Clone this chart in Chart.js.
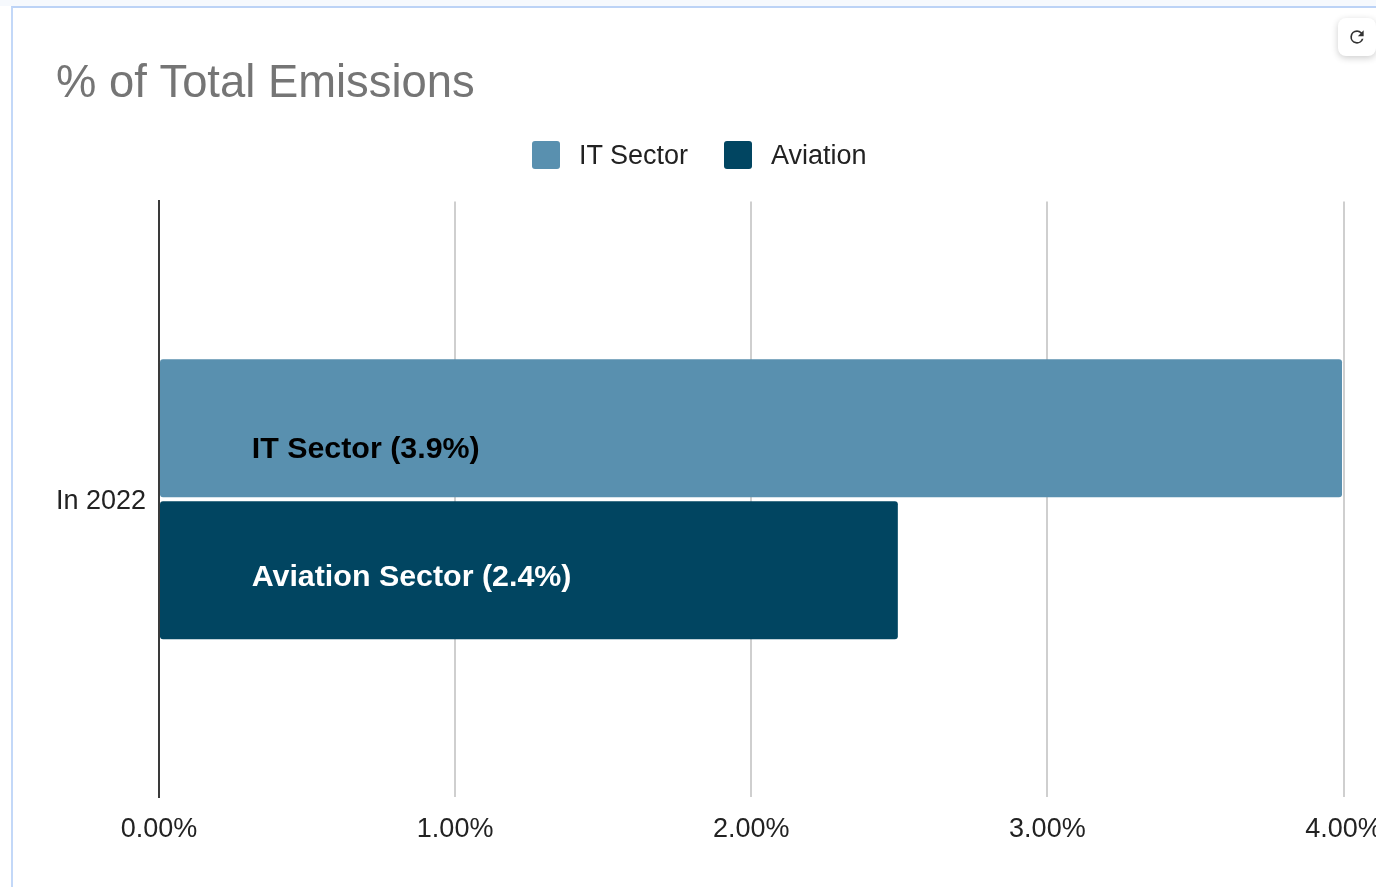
<!DOCTYPE html>
<html>
<head>
<meta charset="utf-8">
<script src="https://cdn.jsdelivr.net/npm/chart.js@4"></script>
<style>
    html, body { margin: 0; padding: 0; background: #fff; overflow: hidden; }
    #page { position: relative; width: 1376px; height: 887px; overflow: hidden; background: #fff; }
    #strip { position: absolute; left: 0; top: 0; width: 100%; height: 6px; background: #f6f9fd; }
    #frame { position: absolute; left: 11px; top: 6px; right: -10px; bottom: -10px; background: #fff;
        border-left: 2px solid #c3d8f8; border-top: 2px solid #bcd3f6; }
    canvas { position: absolute; left: 0; top: 0; }
    #legend { position: absolute; left: 532px; top: 141px; display: flex; align-items: center;
        font: 27px "Liberation Sans", sans-serif; color: #222; }
    #legend .swatch { width: 28px; height: 28px; border-radius: 3px; margin-right: 19px; }
    #legend .name { margin-right: 36px; line-height: 28px; }
    #refresh { position: absolute; left: 1338px; top: 18px; width: 38px; height: 38px; background: #fff;
        border-radius: 8px; box-shadow: 0 2px 7px rgba(0, 0, 0, .2); display: flex;
        align-items: center; justify-content: center; }
</style>
</head>
<body>
<div id="page">
    <div id="strip"></div>
    <div id="frame"></div>
    <canvas id="chart" width="1420" height="887"></canvas>
    <div id="legend"></div>
    <div id="refresh">
        <svg width="20" height="20" viewBox="0 0 24 24"><path fill="#333" d="M17.65 6.35A7.96 7.96 0 0 0 12 4a8 8 0 1 0 7.73 10h-2.08A6 6 0 1 1 12 6c1.66 0 3.14.69 4.22 1.78L13 11h7V4z"/></svg>
    </div>
</div>
<script>
const categories = ["In 2022"];
const seriesNames = ["IT Sector", "Aviation"];
const itValues = [3.995];
const aviationValues = [2.495];
const barLabels = ["IT Sector (3.9%)", "Aviation Sector (2.4%)"];
const barColors = ["#5990af", "#014561"];
const labelColors = ["#000000", "#ffffff"];
const xTicks = [0, 1, 2, 3, 4];

const FONT = '"Liberation Sans", Arial, sans-serif';

const legend = document.getElementById("legend");
seriesNames.forEach((name, i) => {
    const swatch = document.createElement("div");
    swatch.className = "swatch";
    swatch.style.background = barColors[i];
    const text = document.createElement("div");
    text.className = "name";
    text.textContent = name;
    legend.append(swatch, text);
});

// text inside the bars, Sheets style
const labelsInBars = {
    id: "labelsInBars",
    afterDatasetsDraw(chart) {
        const ctx = chart.ctx;
        const offsets = [21, 7];
        ctx.save();
        ctx.font = "bold 30.4px " + FONT;
        ctx.textBaseline = "middle";
        barLabels.forEach((text, i) => {
            const bar = chart.getDatasetMeta(i).data[0];
            ctx.fillStyle = labelColors[i];
            ctx.fillText(text, chart.scales.x.getPixelForValue(0.313), bar.y + offsets[i]);
        });
        ctx.restore();
    }
};

new Chart(document.getElementById("chart"), {
    type: "bar",
    plugins: [labelsInBars],
    data: {
        labels: categories,
        datasets: [
            { label: seriesNames[0], data: itValues, backgroundColor: barColors[0] },
            { label: seriesNames[1], data: aviationValues, backgroundColor: barColors[1] }
        ]
    },
    options: {
        indexAxis: "y",
        responsive: false,
        animation: false,
        layout: { padding: { left: 56, right: 76.5, top: 0, bottom: 0 } },
        datasets: { bar: { categoryPercentage: 0.4765, barPercentage: 0.972, borderRadius: 3, borderSkipped: false } },
        plugins: {
            legend: { display: false },
            tooltip: { enabled: false },
            title: {
                display: true,
                text: "% of Total Emissions",
                align: "start",
                color: "#757575",
                font: { family: FONT, size: 45.4, weight: "normal" },
                padding: { top: 57, bottom: 90 }
            }
        },
        scales: {
            x: {
                min: 0,
                max: 4,
                afterFit(scale) { scale.height = 90; },
                afterBuildTicks(scale) { scale.ticks = xTicks.map(value => ({ value })); },
                grid: { color: "#cfcfcf", lineWidth: 2, drawTicks: false },
                border: { display: false },
                ticks: {
                    padding: 16,
                    maxRotation: 0,
                    color: "#222222",
                    font: { family: FONT, size: 27 },
                    callback: v => v.toFixed(2) + "%"
                }
            },
            y: {
                afterFit(scale) { scale.width = 103; },
                grid: { display: false, drawTicks: false },
                border: { color: "#3a3a3a", width: 2 },
                ticks: {
                    padding: 13,
                    labelOffset: 2,
                    color: "#222222",
                    font: { family: FONT, size: 27 }
                }
            }
        }
    }
});
</script>
</body>
</html>
